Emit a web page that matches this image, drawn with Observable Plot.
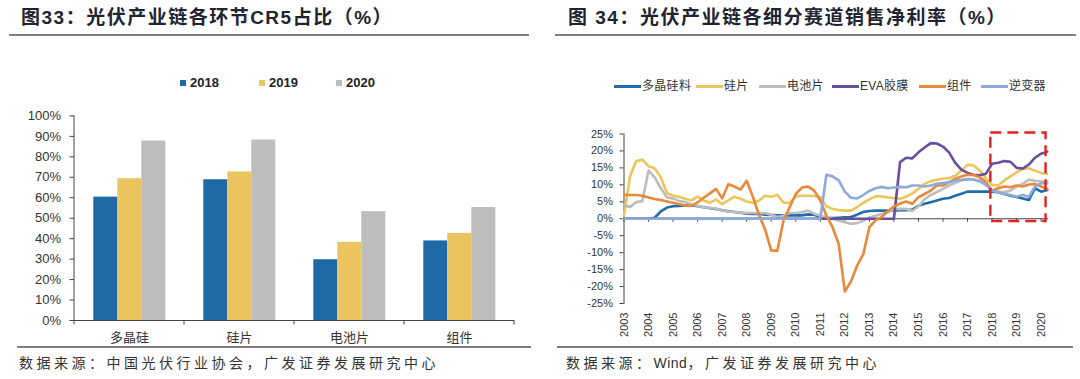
<!DOCTYPE html>
<html><head><meta charset="utf-8">
<script src="https://cdn.jsdelivr.net/npm/d3@7"></script>
<script src="https://cdn.jsdelivr.net/npm/@observablehq/plot@0.6"></script>
<style>
html,body{margin:0;padding:0;background:#fff;}
#root{position:relative;width:1080px;height:379px;overflow:hidden;font-family:"Liberation Sans",Arial,"Noto Sans CJK SC",sans-serif;}
.title{position:absolute;top:6px;font-family:"Liberation Sans","Noto Sans CJK SC",sans-serif;font-weight:700;font-size:19px;letter-spacing:1.5px;color:#1e2430;line-height:24px;white-space:nowrap;}
.rule{position:absolute;height:2px;background:#808080;z-index:2;}
.src{position:absolute;top:353px;font-family:"Liberation Sans","Noto Sans CJK SC",sans-serif;font-size:14px;letter-spacing:3.5px;color:#333;white-space:nowrap;line-height:20px;}
.src span{letter-spacing:0.5px;}
.abs{position:absolute;}
.lg{position:absolute;white-space:nowrap;color:#222;}
</style></head>
<body><div id="root"></div>
<script>
// ---------- Left chart data (图33) ----------
const cats = ["多晶硅", "硅片", "电池片", "组件"];
const years = ["2018", "2019", "2020"];
const v2018 = [60.3, 68.8, 29.7, 38.9];
const v2019 = [69.3, 72.6, 38.2, 42.6];
const v2020 = [87.7, 88.2, 53.2, 55.2];
const barColors = ["#1f6aa6", "#e9c45f", "#bdbdbd"];
const yTicksL = [0, 10, 20, 30, 40, 50, 60, 70, 80, 90, 100];

// ---------- Right chart data (图34), quarterly from 2003Q1 ----------
const startYear = 2003;
const seriesNames = ["多晶硅料", "硅片", "电池片", "EVA胶膜", "组件", "逆变器"];
const lineColors = ["#1f6eaa", "#ebc65a", "#bdbdbd", "#6b4d9e", "#e8893b", "#8eaad8"];
const poly = [0,0,0,0,0,0.3,2.2,3.3,3.7,3.8,3.9,4.0,3.7,3.4,3.1,2.9,2.5,2.2,2.0,1.8,1.5,1.4,1.4,
  1.2,1.1,1.0,1.0,1.0,1.0,1.0,1.3,1.2,0.5,0.3,0.2,0.3,0.4,0.5,1.2,2.0,2.3,2.4,2.4,2.4,2.4,2.5,
  2.5,2.7,3.8,4.4,4.9,5.4,5.9,6.1,6.8,7.4,8.0,8.0,8.0,8.0,8.0,7.8,7.3,6.8,6.4,6.0,5.5,9.0,8.0,8.5];
const wafer = [1.0,12.7,17.0,17.4,15.5,14.9,12.2,7.5,6.8,6.5,5.9,5.4,6.5,5.4,4.7,5.7,4.3,5.4,6.5,5.9,5.1,4.7,5.3,
  6.8,6.5,7.0,4.7,4.7,6.6,6.8,6.8,6.7,6.4,3.7,2.9,2.6,2.4,2.4,3.4,4.7,5.7,6.6,6.6,6.3,6.1,5.9,
  6.5,7.5,8.8,10.3,11.1,11.5,11.8,12.0,12.7,14.2,15.9,15.7,14.2,12.0,10.0,9.8,11.3,12.5,13.7,14.7,14.9,14.2,13.5,13.2];
const cell = [3.9,3.5,4.9,5.2,14.2,12.2,9.0,6.3,6.0,5.2,4.9,4.3,3.8,3.4,3.2,3.0,2.4,2.1,2.0,1.8,1.7,1.7,1.6,
  1.7,1.2,0.5,0.9,1.7,1.7,1.9,2.4,1.5,0.9,0.4,0.0,-0.6,-1.0,-1.5,-1.3,-0.6,0.4,0.9,1.4,1.9,2.8,2.9,
  2.9,2.3,3.6,5.8,7.0,7.9,8.8,9.8,10.6,11.3,11.8,11.5,11.3,10.0,8.3,8.0,7.8,8.3,9.5,10.3,11.5,11.2,11.0,11.0];
const eva = [0,0,0,0,0,0,0,0,0,0,0,0,0,0,0,0,0,0,0,0,0,0,0,
  0,0,0,0,0,0,0,0,0,0,0,0,0,0,0,0,0,0,0,0,0,0,16.7,
  18.0,17.8,19.6,21.0,22.3,22.2,21.3,19.5,16.5,14.5,13.5,13.0,12.8,13.3,16.2,16.5,17.0,16.8,15.0,14.8,16.0,18.0,19.2,19.8];
const moduleM = [7.0,7.0,7.0,6.8,6.3,5.8,5.5,5.1,4.7,4.3,3.9,3.8,4.8,6.2,7.5,8.8,6.0,10.2,9.5,8.6,11.2,6.5,1.2,
  -3.2,-9.4,-9.4,-0.5,3.4,7.3,9.2,9.5,8.3,5.4,0.9,-2.5,-7.5,-21.5,-18.5,-13.8,-10.5,-2.5,-0.5,0.5,2.2,3.6,4.5,
  5.1,4.4,6.4,7.3,8.3,9.8,9.8,10.8,11.8,12.5,13.0,12.9,12.2,10.8,8.3,9.0,9.5,9.3,9.8,9.5,10.1,10.3,9.5,8.8];
const inverter = [0,0,0,0,0,0,0,0,0,0,0,0,0,0,0,0,0,0,0,0,0,0,0,
  0,0,0,0,0,0,0,0,0,0,13.0,12.5,11.3,8.0,6.2,6.0,7.0,8.2,9.0,9.4,9.0,9.2,9.4,
  9.3,9.8,9.8,9.5,9.8,10.3,10.5,10.8,11.3,11.5,11.6,11.6,11.0,10.0,8.3,7.8,7.3,7.0,6.5,7.0,6.5,9.5,10.5,10.5];
const seriesValues = [poly, wafer, cell, eva, moduleM, inverter];
const yTicksR = [-25, -20, -15, -10, -5, 0, 5, 10, 15, 20, 25];
const xTicksR = [2003,2004,2005,2006,2007,2008,2009,2010,2011,2012,2013,2014,2015,2016,2017,2018,2019,2020];
const highlight = [{x1: 2017.95, x2: 2020.2, y1: -0.8, y2: 25.3}];

// ---------- Layout ----------
const root = document.getElementById("root");
function el(tag, cls, style, text) {
  const e = document.createElement(tag);
  if (cls) e.className = cls;
  if (style) e.setAttribute("style", style);
  if (text != null) e.textContent = text;
  root.appendChild(e);
  return e;
}
el("div", "title", "left:21px;", "图33：光伏产业链各环节CR5占比（%）");
el("div", "title", "left:568px;", "图 34：光伏产业链各细分赛道销售净利率（%）");
el("div", "rule", "left:9px;width:520px;top:34px;");
el("div", "rule", "left:555px;width:521px;top:34px;");
el("div", "rule", "left:17px;width:514px;top:346px;");
el("div", "rule", "left:557px;width:516px;top:346px;");
el("div", "src", "left:19px;", "数据来源：中国光伏行业协会，广发证券发展研究中心");
{
  const s = el("div", "src", "left:566px;");
  s.append("数据来源：");
  const w = document.createElement("span"); w.textContent = "Wind"; s.appendChild(w);
  s.append("，广发证券发展研究中心");
}

// left legend
const legL = [180, 259, 336];
years.forEach((y, i) => {
  el("div", "abs", `left:${legL[i]}px;top:80px;width:6px;height:6px;background:${barColors[i]};`);
  el("div", "lg", `left:${legL[i] + 10}px;top:75px;font-size:13px;font-weight:700;line-height:16px;`, y);
});
// right legend
const legR = [614, 696, 759, 832, 919, 981];
seriesNames.forEach((s, i) => {
  el("div", "abs", `left:${legR[i]}px;top:85px;width:27px;height:2.5px;background:${lineColors[i]};`);
  el("div", "lg", `left:${legR[i] + 28}px;top:78px;font-size:12px;letter-spacing:0.3px;line-height:16px;font-family:'Liberation Sans','Noto Sans CJK SC',sans-serif;color:#333;`, s);
});

// ---------- Left chart ----------
const barData = cats.flatMap((c, i) => [
  {cat: c, year: years[0], v: v2018[i]},
  {cat: c, year: years[1], v: v2019[i]},
  {cat: c, year: years[2], v: v2020[i]}
]);
const left = Plot.plot({
  width: 540, height: 250,
  marginLeft: 72.7, marginRight: 24.4, marginTop: 15.4, marginBottom: 30,
  style: {fontFamily: "'Liberation Sans', Arial, sans-serif", fontSize: "13px", color: "#333", background: "transparent", overflow: "visible"},
  fx: {domain: cats, padding: 0, label: null},
  x: {domain: years, paddingInner: 0, paddingOuter: 0.76, axis: null},
  y: {domain: [0, 100], label: null},
  color: {domain: years, range: barColors},
  marks: [
    Plot.barY(barData, {fx: "cat", x: "year", y: "v", fill: "year"}),
    Plot.ruleY([0], {stroke: "#444", strokeWidth: 1}),
    Plot.axisY({ticks: yTicksL, tickSize: 4.5, tickPadding: 9, tickFormat: d => d + "%", fontSize: 13, label: null, stroke: "#444"}),
    Plot.axisFx({anchor: "bottom", tickSize: 0, tickPadding: 12, fontSize: 13, label: null, fontFamily: "'Noto Sans CJK SC', sans-serif"})
  ]
});
const lw = el("div", "abs", "left:0px;top:100px;");
lw.appendChild(left);
{
  const fx = left.scale("fx"), yL = left.scale("y");
  const g = d3.select(left).append("g").attr("stroke", "#444").attr("stroke-width", 1);
  const y0 = yL.apply(0);
  const x0 = fx.apply(cats[0]);
  g.append("line").attr("x1", x0).attr("x2", x0).attr("y1", yL.apply(100)).attr("y2", y0);
  const edges = cats.map(c => fx.apply(c)).concat([fx.apply(cats[cats.length - 1]) + fx.bandwidth]);
  edges.forEach(e => g.append("line").attr("x1", e).attr("x2", e).attr("y1", y0).attr("y2", y0 + 4.5));
}

// ---------- Right chart ----------
const lineData = seriesNames.flatMap((s, k) => seriesValues[k].map((v, i) => ({s, t: startYear + i / 4, v})));
const right = Plot.plot({
  width: 540, height: 230,
  marginLeft: 83.5, marginRight: 32, marginTop: 13.5, marginBottom: 47,
  style: {fontFamily: "'Liberation Sans', Arial, sans-serif", fontSize: "11px", color: "#333", background: "transparent", overflow: "visible"},
  x: {domain: [2003, 2020.3], label: null},
  y: {domain: [-25, 25], label: null},
  color: {domain: seriesNames, range: lineColors},
  marks: [
    Plot.axisY({ticks: yTicksR, tickSize: 4, tickPadding: 7, tickFormat: d => d + "%", fontSize: 11, label: null, stroke: "#444"}),
    Plot.axisX({ticks: xTicksR, tickSize: 0, tickPadding: 9, tickRotate: -90, tickFormat: d => String(d), fontSize: 11, label: null}),
    Plot.frame({anchor: "left", stroke: "#444"}),
    Plot.ruleY([0], {stroke: "#444"}),
    Plot.ruleX(xTicksR, {x: d => d, y1: 0, y2: 0, insetBottom: -3.5, stroke: "#444"}),
    Plot.line(lineData, {x: "t", y: "v", z: "s", stroke: "s", strokeWidth: 2.6}),
    Plot.rect(highlight, {x1: "x1", x2: "x2", y1: "y1", y2: "y2", fill: "none", stroke: "#e3211f", strokeWidth: 2.4, strokeDasharray: "11,6"})
  ]
});
const rw = el("div", "abs", "left:540px;top:120px;");
rw.appendChild(right);
</script>
</body></html>
